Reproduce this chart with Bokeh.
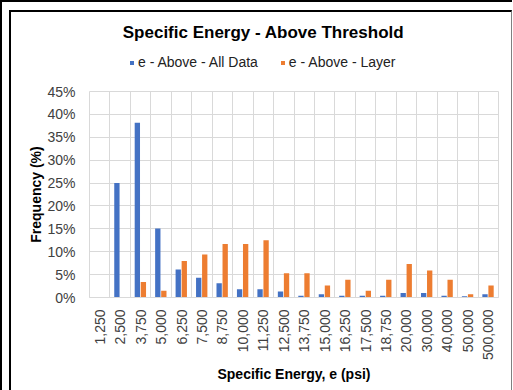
import numpy as np
from bokeh.plotting import figure
from bokeh.models import (ColumnDataSource, FixedTicker, Range1d, Legend, LegendItem,
                          PrintfTickFormatter, Label)
from bokeh.layouts import column
from bokeh.embed import file_html
from bokeh.resources import INLINE

# Specific energy bins (psi) and frequency (%) for each data set
bins = ["1,250", "2,500", "3,750", "5,000", "6,250", "7,500", "8,750", "10,000",
        "11,250", "12,500", "13,750", "15,000", "16,250", "17,500", "18,750",
        "20,000", "30,000", "40,000", "50,000", "500,000"]
all_data = [0.0, 25.0, 38.2, 15.1, 6.1, 4.3, 3.1, 1.8, 1.8, 1.3,
            0.4, 0.7, 0.4, 0.4, 0.4, 1.0, 1.0, 0.4, 0.3, 0.7]
layer = [0.0, 0.0, 3.4, 1.5, 8.0, 9.4, 11.7, 11.7, 12.5, 5.3,
         5.3, 2.6, 3.9, 1.5, 3.9, 7.3, 5.9, 3.9, 0.7, 2.6]
y_ticks = [0, 5, 10, 15, 20, 25, 30, 35, 40, 45]
series_names = ["e - Above - All Data", "e - Above - Layer"]

BLUE = "#4472C4"
ORANGE = "#ED7D31"
GRID = "#d9d9d9"
FONT = "Liberation Sans"
W = 500

# ---- header: chart title and legend (its frame lines up with the chart's) ----
HEAD_H = 71
head = figure(width=W, height=HEAD_H, output_backend="svg", toolbar_location=None,
              x_range=Range1d(0, 1), y_range=Range1d(0, HEAD_H),
              x_axis_location=None, y_axis_location=None,
              min_border=0, outline_line_color=None,
              background_fill_color="white", border_fill_color="white")
head.grid.visible = False
head.add_layout(Label(x=174, x_units="screen", y=HEAD_H - 20,
                      text="Specific Energy - Above Threshold",
                      text_align="center", text_baseline="middle",
                      text_font=FONT, text_font_size="17px", text_font_style="bold",
                      text_color="#000000"))
# zero-height bars used only as legend keys
kb = head.vbar(x=[0], top=[0], bottom=[0], width=0, fill_color=BLUE, line_color=None)
ko = head.vbar(x=[0], top=[0], bottom=[0], width=0, fill_color=ORANGE, line_color=None)
legend = Legend(items=[LegendItem(label=series_names[0], renderers=[kb]),
                       LegendItem(label=series_names[1], renderers=[ko])],
                orientation="horizontal", location=(40, 13),
                border_line_color=None, background_fill_alpha=0,
                glyph_width=5, glyph_height=5, label_standoff=4, spacing=22,
                label_text_font=FONT, label_text_font_size="14px",
                label_text_color="#222222", padding=2, margin=0)
head.add_layout(legend, "center")

# ---- main bar chart ----
idx = np.arange(len(bins))
src = ColumnDataSource(dict(
    xb=idx + 0.34, xo=idx + 0.635, all_data=all_data, layer=layer))

p = figure(width=W, height=378 - HEAD_H, output_backend="svg", toolbar_location=None,
           x_range=Range1d(0, len(bins)), y_range=Range1d(0, 45),
           min_border_left=78, min_border_right=13, min_border_top=8,
           min_border_bottom=93, background_fill_color="white",
           border_fill_color="white", outline_line_color=GRID)

p.vbar(x="xb", top="all_data", width=0.26, source=src, fill_color=BLUE, line_color=None)
p.vbar(x="xo", top="layer", width=0.26, source=src, fill_color=ORANGE, line_color=None)

# x axis: category labels centred in each slot, grid on slot boundaries
p.xaxis.ticker = FixedTicker(ticks=list(idx + 0.5))
p.xaxis.major_label_overrides = {float(i + 0.5): b for i, b in enumerate(bins)}
p.xaxis.major_label_orientation = np.pi / 2
p.xaxis.major_label_text_font = FONT
p.xaxis.major_label_text_font_size = "14px"
p.xaxis.major_label_text_color = "#404040"
p.xaxis.major_label_standoff = 6
p.xaxis.major_tick_line_color = None
p.xaxis.minor_tick_line_color = None
p.xaxis.axis_line_color = GRID
p.xaxis.axis_label = "Specific Energy, e (psi)"
p.xaxis.axis_label_text_font = FONT
p.xaxis.axis_label_text_font_size = "14px"
p.xaxis.axis_label_text_font_style = "bold"
p.xaxis.axis_label_text_color = "#000000"
p.xaxis.axis_label_standoff = 3
p.xgrid.ticker = FixedTicker(ticks=list(range(len(bins) + 1)))
p.xgrid.grid_line_color = GRID

p.yaxis.ticker = FixedTicker(ticks=y_ticks)
p.yaxis.formatter = PrintfTickFormatter(format="%d%%")
p.yaxis.major_label_text_font = FONT
p.yaxis.major_label_text_font_size = "14px"
p.yaxis.major_label_text_color = "#404040"
p.yaxis.major_label_standoff = 8
p.yaxis.major_tick_line_color = None
p.yaxis.minor_tick_line_color = None
p.yaxis.axis_line_color = None
p.yaxis.axis_label = "Frequency (%)"
p.yaxis.axis_label_text_font = FONT
p.yaxis.axis_label_text_font_size = "14px"
p.yaxis.axis_label_text_font_style = "bold"
p.yaxis.axis_label_text_color = "#000000"
p.yaxis.axis_label_standoff = 0
p.ygrid.grid_line_color = GRID

# chart border, set inside the sheet's frame lines
chart = column(head, p, spacing=0, margin=(8, 0, 0, 7),
               styles={"border-top": "2px solid #000000",
                       "border-left": "2px solid #000000",
                       "border-right": "1px solid #808080"})
page = column(chart, styles={"border-top": "2px solid #000000",
                             "border-left": "2px solid #000000"})

open("out.html", "w").write(file_html(page, INLINE))
